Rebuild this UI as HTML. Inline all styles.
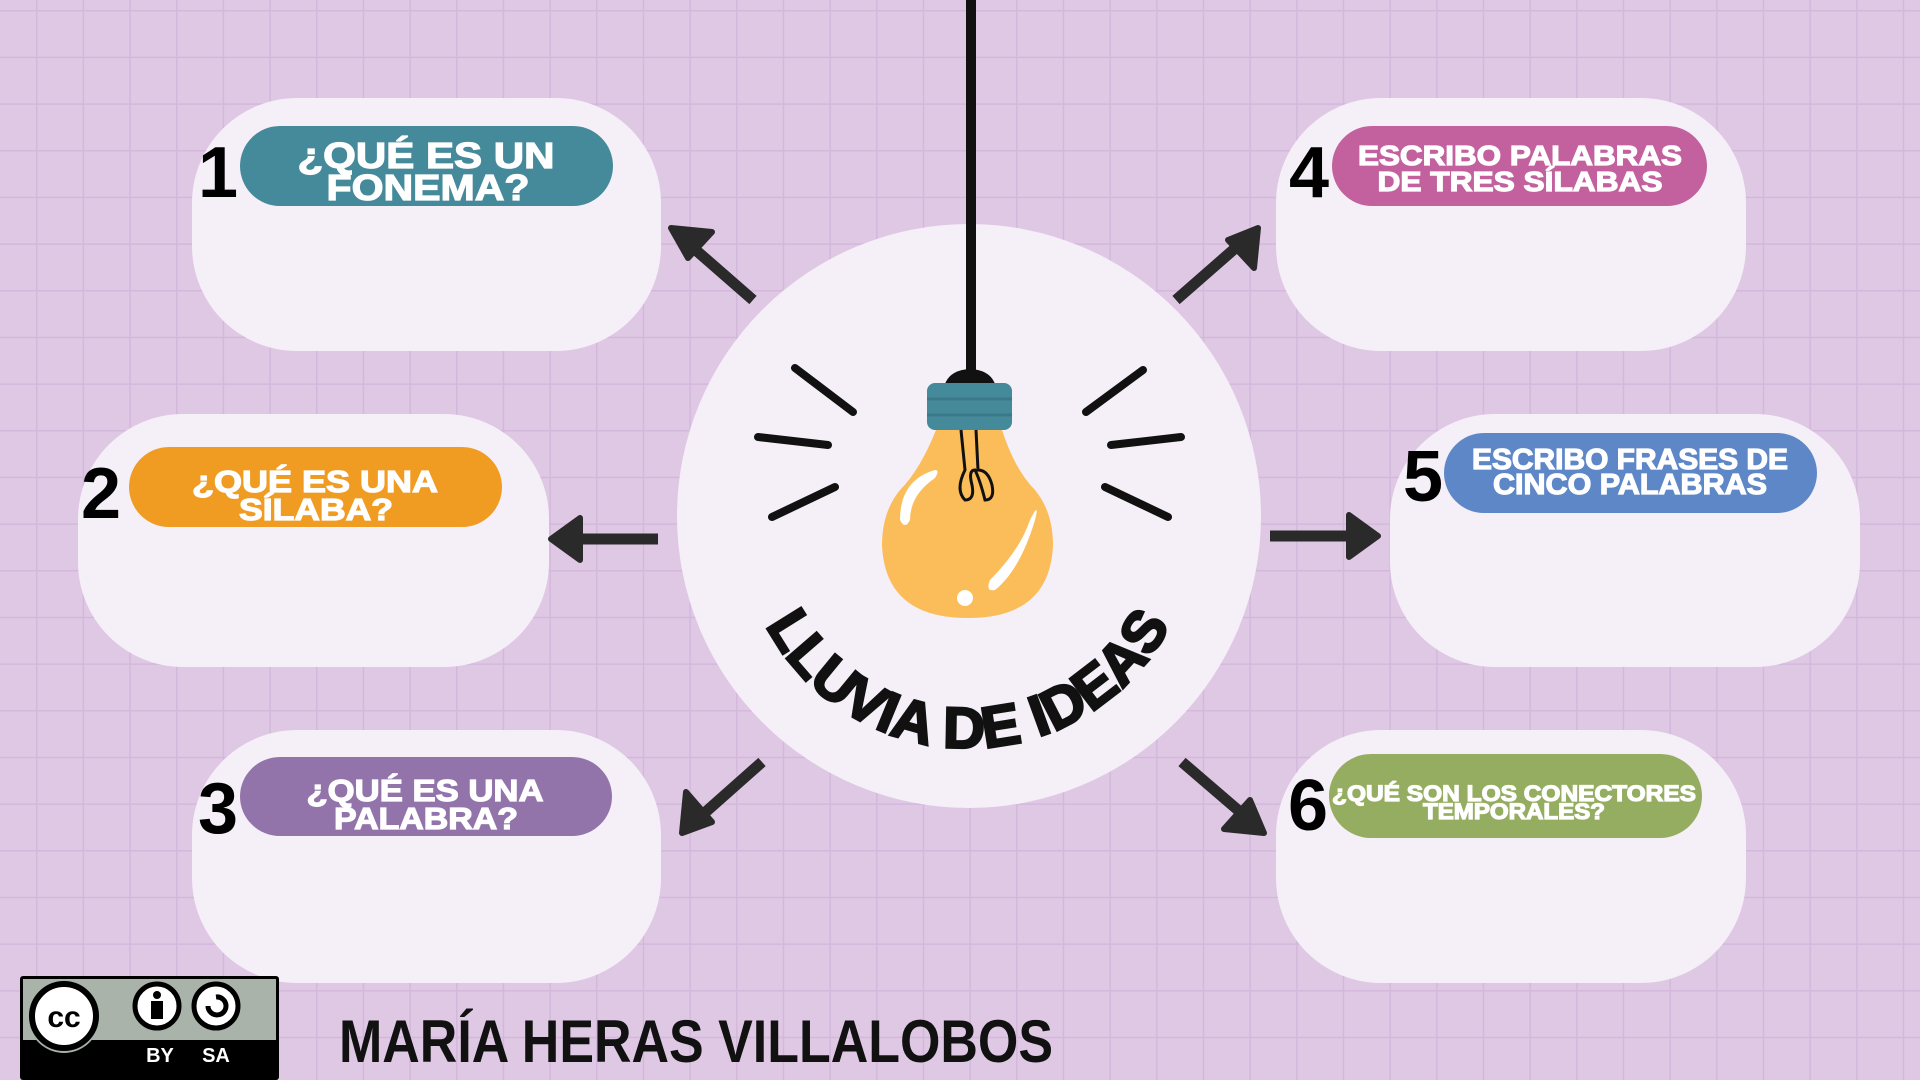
<!DOCTYPE html>
<html><head><meta charset="utf-8"><style>html,body{margin:0;padding:0;background:#dfc8e4}svg{display:block}</style></head>
<body>
<svg width="1920" height="1080" viewBox="0 0 1920 1080" xmlns="http://www.w3.org/2000/svg" font-family="Liberation Sans, sans-serif">
<defs>
<pattern id="g" x="36" y="10" width="46.67" height="46.67" patternUnits="userSpaceOnUse">
<path d="M0 0H46.67M0 0V46.67" stroke="#d3b8dc" stroke-width="3" fill="none"/>
</pattern>
<path id="arc" d="M 740 520 A 228 228 0 0 0 1196 520" fill="none"/>
</defs>
<rect width="1920" height="1080" fill="#dfc8e4"/>
<rect width="1920" height="1080" fill="url(#g)"/>

<g fill="#f5eff7">
<rect x="192" y="98" width="469" height="253" rx="105"/>
<rect x="78" y="414" width="471" height="253" rx="105"/>
<rect x="192" y="730" width="469" height="253" rx="105"/>
<rect x="1276" y="98" width="470" height="253" rx="105"/>
<rect x="1390" y="414" width="470" height="253" rx="105"/>
<rect x="1276" y="730" width="470" height="253" rx="105"/>
</g>
<circle cx="969" cy="516" r="292" fill="#f5eff7"/>

<rect x="240" y="126" width="373" height="80" rx="40" fill="#458a9a"/>
<rect x="129" y="447" width="373" height="80" rx="40" fill="#f09c22"/>
<rect x="240" y="757" width="372" height="79" rx="40" fill="#9274ab"/>
<rect x="1332" y="126" width="375" height="80" rx="40" fill="#c3619f"/>
<rect x="1444" y="433" width="373" height="80" rx="40" fill="#5e87c8"/>
<rect x="1329" y="754" width="373" height="84" rx="42" fill="#95ad60"/>

<g fill="#fff" font-weight="bold" text-anchor="middle" stroke="#fff" stroke-width="1.2">
<text x="426" y="168" font-size="36" textLength="257" lengthAdjust="spacingAndGlyphs">¿QUÉ ES UN</text>
<text x="428" y="200" font-size="36" textLength="203" lengthAdjust="spacingAndGlyphs">FONEMA?</text>
<text x="315" y="492" font-size="31" textLength="246" lengthAdjust="spacingAndGlyphs">¿QUÉ ES UNA</text>
<text x="316" y="520" font-size="31" textLength="154" lengthAdjust="spacingAndGlyphs">SÍLABA?</text>
<text x="425" y="801" font-size="31" textLength="237" lengthAdjust="spacingAndGlyphs">¿QUÉ ES UNA</text>
<text x="426" y="829" font-size="31" textLength="184" lengthAdjust="spacingAndGlyphs">PALABRA?</text>
<text x="1520" y="165" font-size="28" textLength="324" lengthAdjust="spacingAndGlyphs">ESCRIBO PALABRAS</text>
<text x="1520" y="191" font-size="28" textLength="285" lengthAdjust="spacingAndGlyphs">DE TRES SÍLABAS</text>
<text x="1630" y="469" font-size="29" textLength="316" lengthAdjust="spacingAndGlyphs">ESCRIBO FRASES DE</text>
<text x="1630" y="494" font-size="29" textLength="274" lengthAdjust="spacingAndGlyphs">CINCO PALABRAS</text>
<text x="1514" y="801" font-size="22" textLength="364" lengthAdjust="spacingAndGlyphs">¿QUÉ SON LOS CONECTORES</text>
<text x="1514" y="819" font-size="22" textLength="182" lengthAdjust="spacingAndGlyphs">TEMPORALES?</text>
</g>

<g font-size="72" font-weight="bold" fill="#000" text-anchor="middle">
<text x="218" y="197">1</text>
<text x="101" y="518">2</text>
<text x="218" y="833">3</text>
<text x="1309" y="197">4</text>
<text x="1423" y="501">5</text>
<text x="1308" y="830">6</text>
</g>

<g stroke="#2a2a2a" stroke-width="11" fill="#2a2a2a" stroke-linejoin="round">
<line x1="753" y1="300" x2="690" y2="245"/>
<polygon points="671,228 712,232 688,258" stroke-width="6"/>
<line x1="658" y1="539" x2="570" y2="539"/>
<polygon points="551,539 580,518 580,560" stroke-width="6"/>
<line x1="762" y1="762" x2="700" y2="817"/>
<polygon points="682,833 686,792 712,822" stroke-width="6"/>
<line x1="1176" y1="300" x2="1240" y2="244"/>
<polygon points="1258,228 1254,268 1228,240" stroke-width="6"/>
<line x1="1270" y1="536" x2="1358" y2="536"/>
<polygon points="1378,536 1349,515 1349,557" stroke-width="6"/>
<line x1="1182" y1="762" x2="1246" y2="817"/>
<polygon points="1264,833 1224,829 1250,800" stroke-width="6"/>
</g>

<rect x="966" y="0" width="10" height="375" fill="#111"/>
<path d="M945 384 Q950 370 970 369 Q990 370 995 384 Z" fill="#111"/>
<path d="M936 430 Q920 470 900 490 Q882 512 882 545 Q885 618 968 618 Q1050 618 1053 545 Q1053 512 1035 490 Q1015 470 1002 430 Z" fill="#fbbd5a"/>
<rect x="927" y="383" width="85" height="47" rx="8" fill="#458a9a"/>
<path d="M927 399 h85 M927 415 h85" stroke="#3d7888" stroke-width="3"/>
<path d="M961 430 L965 470 Q955 490 965 500 Q975 500 972 485 Q968 470 975 470 Q980 480 985 500 Q995 500 992 485 Q988 470 978 470 L976 430" fill="none" stroke="#111" stroke-width="3"/>
<path d="M900 520 Q900 480 935 470 Q940 470 935 478 Q910 495 910 520 Q905 530 900 520Z" fill="#fff"/>
<path d="M1030 520 Q1040 500 1035 520 Q1020 570 995 590 Q985 592 990 580 Q1020 550 1030 520Z" fill="#fff"/>
<circle cx="965" cy="598" r="8" fill="#fff"/>

<g stroke="#111" stroke-width="8" stroke-linecap="round">
<line x1="795" y1="368" x2="853" y2="412"/>
<line x1="758" y1="437" x2="828" y2="445"/>
<line x1="772" y1="517" x2="835" y2="487"/>
<line x1="1143" y1="370" x2="1086" y2="412"/>
<line x1="1181" y1="437" x2="1111" y2="445"/>
<line x1="1168" y1="517" x2="1105" y2="487"/>
</g>

<text font-size="58" font-weight="bold" fill="#111" stroke="#111" stroke-width="2.5"><textPath href="#arc" startOffset="50%" text-anchor="middle">LLUVIA DE IDEAS</textPath></text>

<rect x="20" y="976" width="259" height="104" rx="3" fill="#000"/>
<rect x="23" y="979" width="253" height="61" fill="#aab3a9"/>
<circle cx="64" cy="1017" r="36" fill="#aab3a9"/>
<circle cx="64" cy="1016" r="32" fill="#fff" stroke="#000" stroke-width="6"/>
<text x="64" y="1027" font-size="30" font-weight="bold" text-anchor="middle" fill="#000">cc</text>
<circle cx="157" cy="1006" r="22" fill="#fff" stroke="#000" stroke-width="5"/>
<circle cx="157" cy="995" r="4" fill="#000"/>
<rect x="151" y="1001" width="12" height="18" fill="#000"/>
<circle cx="216" cy="1006" r="22" fill="#fff" stroke="#000" stroke-width="5"/>
<path d="M208 1006 A9 9 0 1 0 216 997" fill="none" stroke="#000" stroke-width="5"/>
<text x="160" y="1062" font-size="20" font-weight="bold" fill="#fff" text-anchor="middle">BY</text>
<text x="216" y="1062" font-size="20" font-weight="bold" fill="#fff" text-anchor="middle">SA</text>

<text x="339" y="1062" font-size="60" font-weight="bold" fill="#111" textLength="714" lengthAdjust="spacingAndGlyphs">MARÍA HERAS VILLALOBOS</text>
</svg>
</body></html>
